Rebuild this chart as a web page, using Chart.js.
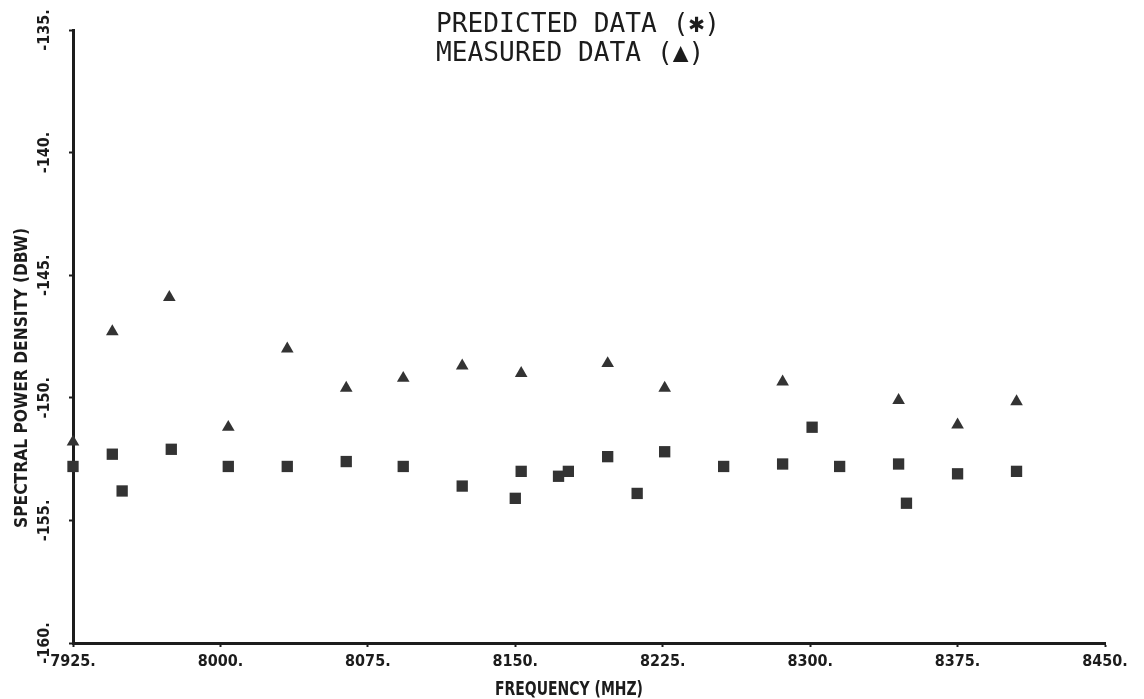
<!DOCTYPE html>
<html>
<head>
<meta charset="utf-8">
<style>
  html, body { margin: 0; padding: 0; background: #ffffff; }
  #wrap { width: 1144px; height: 699px; position: relative; }
</style>
<script src="https://cdn.jsdelivr.net/npm/chart.js@4.4.1/dist/chart.umd.min.js"></script>
</head>
<body>
<div id="wrap"><canvas id="chart"></canvas></div>
<script>
// Measured spectral power density (triangles)
const measuredFreq = [7925, 7945, 7974, 8004, 8034, 8064, 8093, 8123, 8153, 8197, 8226, 8286, 8345, 8375, 8405];
const measuredDensity = [-151.8, -147.3, -145.9, -151.2, -148.0, -149.6, -149.2, -148.7, -149.0, -148.6, -149.6, -149.35, -150.1, -151.1, -150.15];

// Predicted spectral power density (asterisk blocks)
const predictedFreq = [7925, 7945, 7950, 7975, 8004, 8034, 8064, 8093, 8123, 8150, 8153, 8172, 8177, 8197, 8212, 8226, 8256, 8286, 8301, 8315, 8345, 8349, 8375, 8405];
const predictedDensity = [-152.8, -152.3, -153.8, -152.1, -152.8, -152.8, -152.6, -152.8, -153.6, -154.1, -153.0, -153.2, -153.0, -152.4, -153.9, -152.2, -152.8, -152.7, -151.2, -152.8, -152.7, -154.3, -153.1, -153.0];

// Axis ticks
const freqTicks = [7925, 8000, 8075, 8150, 8225, 8300, 8375, 8450];
const densityTicks = [-160, -155, -150, -145, -140, -135];

// Text
const headerLines = ['PREDICTED DATA (\u2731)', 'MEASURED DATA (\u25B2)'];
const xAxisTitle = 'FREQUENCY (MHZ)';
const yAxisTitle = 'SPECTRAL POWER DENSITY (DBW)';

const INK = '#1c1c1c';
const MARK = '#333333';
const blockFont = "'Liberation Sans Narrow', 'DejaVu Sans Condensed', 'Arial Narrow', sans-serif";

function toPoints(xs, ys) {
  return xs.map((x, i) => ({ x: x, y: ys[i] }));
}

// Draws a string squeezed or stretched horizontally to an exact width
function fittedText(ctx, text, x, y, width, font, angle) {
  ctx.save();
  ctx.font = font;
  const w = ctx.measureText(text).width;
  ctx.translate(x, y);
  if (angle) ctx.rotate(angle);
  ctx.scale(width / w, 1);
  ctx.textAlign = 'left';
  ctx.textBaseline = 'alphabetic';
  ctx.fillText(text, 0, 0);
  ctx.restore();
}

const labelsPlugin = {
  id: 'plotterLabels',
  afterDraw(chart) {
    const ctx = chart.ctx;
    ctx.save();
    ctx.fillStyle = INK;
    // header lines share one horizontal scale so the lettering stays even
    const hFont = "27px 'DejaVu Sans Mono', 'Liberation Mono', monospace";
    ctx.font = hFont;
    const k = 284 / ctx.measureText(headerLines[0]).width;
    const w2 = ctx.measureText(headerLines[1]).width * k;
    fittedText(ctx, headerLines[0], 436, 32, 284, hFont, 0);
    fittedText(ctx, headerLines[1], 436, 61, w2, hFont, 0);
    // axis titles
    fittedText(ctx, xAxisTitle, 495, 695, 148, 'bold 20px ' + blockFont, 0);
    fittedText(ctx, yAxisTitle, 27, 528, 300, 'bold 17px ' + blockFont, -Math.PI / 2);
    ctx.restore();
  }
};

const tickFont = { family: blockFont, weight: 'bold', size: 16 };

new Chart(document.getElementById('chart'), {
  type: 'scatter',
  data: {
    datasets: [
      {
        label: 'PREDICTED DATA',
        data: toPoints(predictedFreq, predictedDensity),
        pointStyle: 'rect',
        pointRadius: 8,
        pointHoverRadius: 8,
        backgroundColor: MARK,
        borderColor: MARK,
        borderWidth: 0,
        clip: false
      },
      {
        label: 'MEASURED DATA',
        data: toPoints(measuredFreq, measuredDensity),
        pointStyle: 'triangle',
        pointRadius: 7.3,
        pointHoverRadius: 7.3,
        backgroundColor: MARK,
        borderColor: MARK,
        borderWidth: 0,
        clip: false
      }
    ]
  },
  options: {
    responsive: true,
    maintainAspectRatio: false,
    animation: false,
    events: [],
    layout: { padding: { top: 30, right: 39, left: 0, bottom: 0 } },
    plugins: {
      legend: { display: false },
      title: { display: false },
      tooltip: { enabled: false }
    },
    scales: {
      x: {
        type: 'linear',
        min: 7925,
        max: 8450,
        afterBuildTicks: s => { s.ticks = freqTicks.map(v => ({ value: v })); },
        afterFit: s => { s.height = 56; },
        grid: { drawOnChartArea: false, drawTicks: true, tickLength: 4, tickWidth: 2, tickColor: INK },
        border: { display: true, color: INK, width: 3 },
        ticks: {
          color: INK,
          font: tickFont,
          padding: 5,
          maxRotation: 0,
          autoSkip: false,
          callback: v => v + '.'
        }
      },
      y: {
        type: 'linear',
        min: -160,
        max: -135,
        afterBuildTicks: s => { s.ticks = densityTicks.map(v => ({ value: v })); },
        afterFit: s => { s.width = 73; },
        grid: { drawOnChartArea: false, drawTicks: true, tickLength: 4, tickWidth: 2, tickColor: INK },
        border: { display: true, color: INK, width: 3 },
        ticks: {
          color: INK,
          font: tickFont,
          padding: 3,
          minRotation: 90,
          maxRotation: 90,
          crossAlign: 'center',
          autoSkip: false,
          callback: v => v + '.'
        }
      }
    }
  },
  plugins: [labelsPlugin]
});
</script>
</body>
</html>
